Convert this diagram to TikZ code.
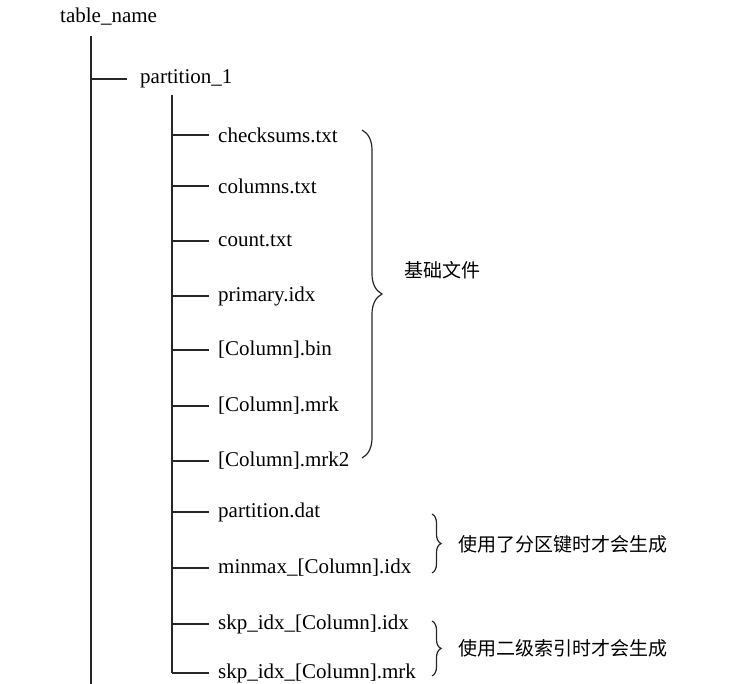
\documentclass[tikz,border=0pt]{standalone}
\usepackage{fontspec}
\setmainfont{Liberation Serif}
\newfontfamily\cjk{Noto Sans CJK SC}
\usetikzlibrary{decorations.pathreplacing}
\begin{document}
\begin{tikzpicture}[x=1pt,y=-1pt,
  ln/.style={line width=1.2pt,black!85},
  lbl/.style={anchor=west,inner sep=0pt,font=\fontsize{21}{23}\selectfont},
  cl/.style={anchor=west,inner sep=0pt,font=\cjk\fontsize{19}{21}\selectfont},
  br/.style={line width=1.2pt,black!85,decorate,decoration={brace,amplitude=9pt,raise=0pt}}]
\useasboundingbox (0,0) rectangle (732,684);
\node[lbl] (root) at (60,17) {table\_name};
\coordinate (rv) at (91,36);
\coordinate (rb) at (91,684);
\draw[ln] (rv) -- (rb);
\coordinate (p1j) at (91,79);
\node[lbl] (p1) at (140,79) {partition\_1};
\draw[ln] (p1j) -- (127,79);
\coordinate (pv) at (172,95);
\coordinate (pe) at (172,673);
\draw[ln] (pv) -- (pe);
\foreach \n/\y/\t in {a/135/checksums.txt, b/186/columns.txt, c/241/count.txt, d/296/primary.idx, e/350/[Column].bin, f/406/[Column].mrk, g/461/[Column].mrk2, h/512/partition.dat, i/568/minmax\_[Column].idx, j/624/skp\_idx\_[Column].idx, k/673/skp\_idx\_[Column].mrk}{
  \node[lbl] (\n) at (218,\y) {\t};
  \draw[ln] (172,\y) -- (209,\y);
}
\coordinate (b1t) at (362,130);
\coordinate (b1b) at (362,458);
\draw[br,decoration={amplitude=20pt}] (b1t) -- (b1b);
\node[cl] (l1) at (404,270) {基础文件};
\coordinate (b2t) at (432,514);
\coordinate (b2b) at (432,573);
\draw[br] (b2t) -- (b2b);
\node[cl] (l2) at (458,544) {使用了分区键时才会生成};
\coordinate (b3t) at (432,621);
\coordinate (b3b) at (432,676);
\draw[br] (b3t) -- (b3b);
\node[cl] (l3) at (458,648) {使用二级索引时才会生成};
\end{tikzpicture}
\end{document}
